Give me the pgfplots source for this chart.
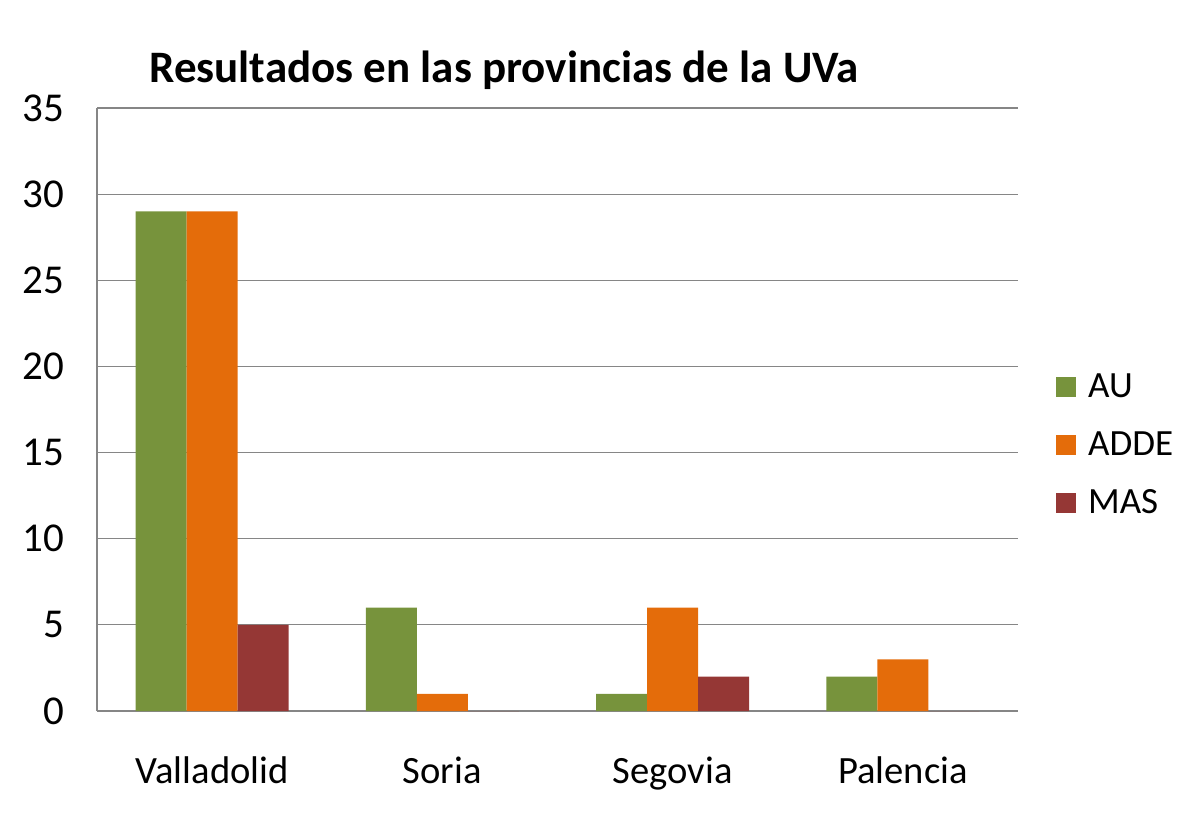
\documentclass[border=0pt]{standalone}
\usepackage{pgfplots}
\pgfplotsset{compat=1.18}
\usepackage{fontspec}
\setmainfont{Carlito}
\definecolor{cau}{HTML}{77933C}
\definecolor{cadde}{HTML}{E46C0A}
\definecolor{cmas}{HTML}{953735}
\definecolor{cgrid}{HTML}{868686}
\begin{document}
\begin{tikzpicture}
\path[use as bounding box] (0,0) rectangle (597pt,408pt);
\node[font=\fontsize{22.5}{27}\selectfont\bfseries] at (252pt,373pt) {Resultados en las provincias de la UVa};
\begin{axis}[
  at={(48.5pt,52.5pt)}, anchor=south west,
  scale only axis, width=460.5pt, height=301.5pt,
  ybar=0pt, bar width=25.5pt,
  xmin=-0.5, xmax=3.5, ymin=0, ymax=35,
  xtick=data, xticklabels={Valladolid,Soria,Segovia,Palencia},
  ytick={0,5,...,35},
  axis lines=left, axis line style={-, cgrid, line width=0.6pt},
  ymajorgrids, grid style={cgrid, line width=0.6pt},
  major tick length=0pt,
  /pgf/number format/assume math mode=true,
  yticklabel style={font=\fontsize{20.5}{24}\selectfont, xshift=-13pt},
  xticklabel style={font=\fontsize{19.3}{23}\selectfont, yshift=-19.5pt},
  legend style={at={(1.041,0.441)}, anchor=west, draw=none, fill=none,
    inner sep=0pt, row sep=11.5pt, font=\fontsize{18.5}{22}\selectfont,
    legend cell align=left, nodes={inner xsep=6pt}},
  legend image code/.code={\fill[#1] (0pt,-5pt) rectangle (10pt,5pt);},
]
\addplot[fill=cau, draw=none] coordinates {(0,29) (1,6) (2,1) (3,2)};
\addplot[fill=cadde, draw=none] coordinates {(0,29) (1,1) (2,6) (3,3)};
\addplot[fill=cmas, draw=none] coordinates {(0,5) (1,0) (2,2) (3,0)};
\legend{AU,ADDE,MAS}
\end{axis}
\end{tikzpicture}
\end{document}
